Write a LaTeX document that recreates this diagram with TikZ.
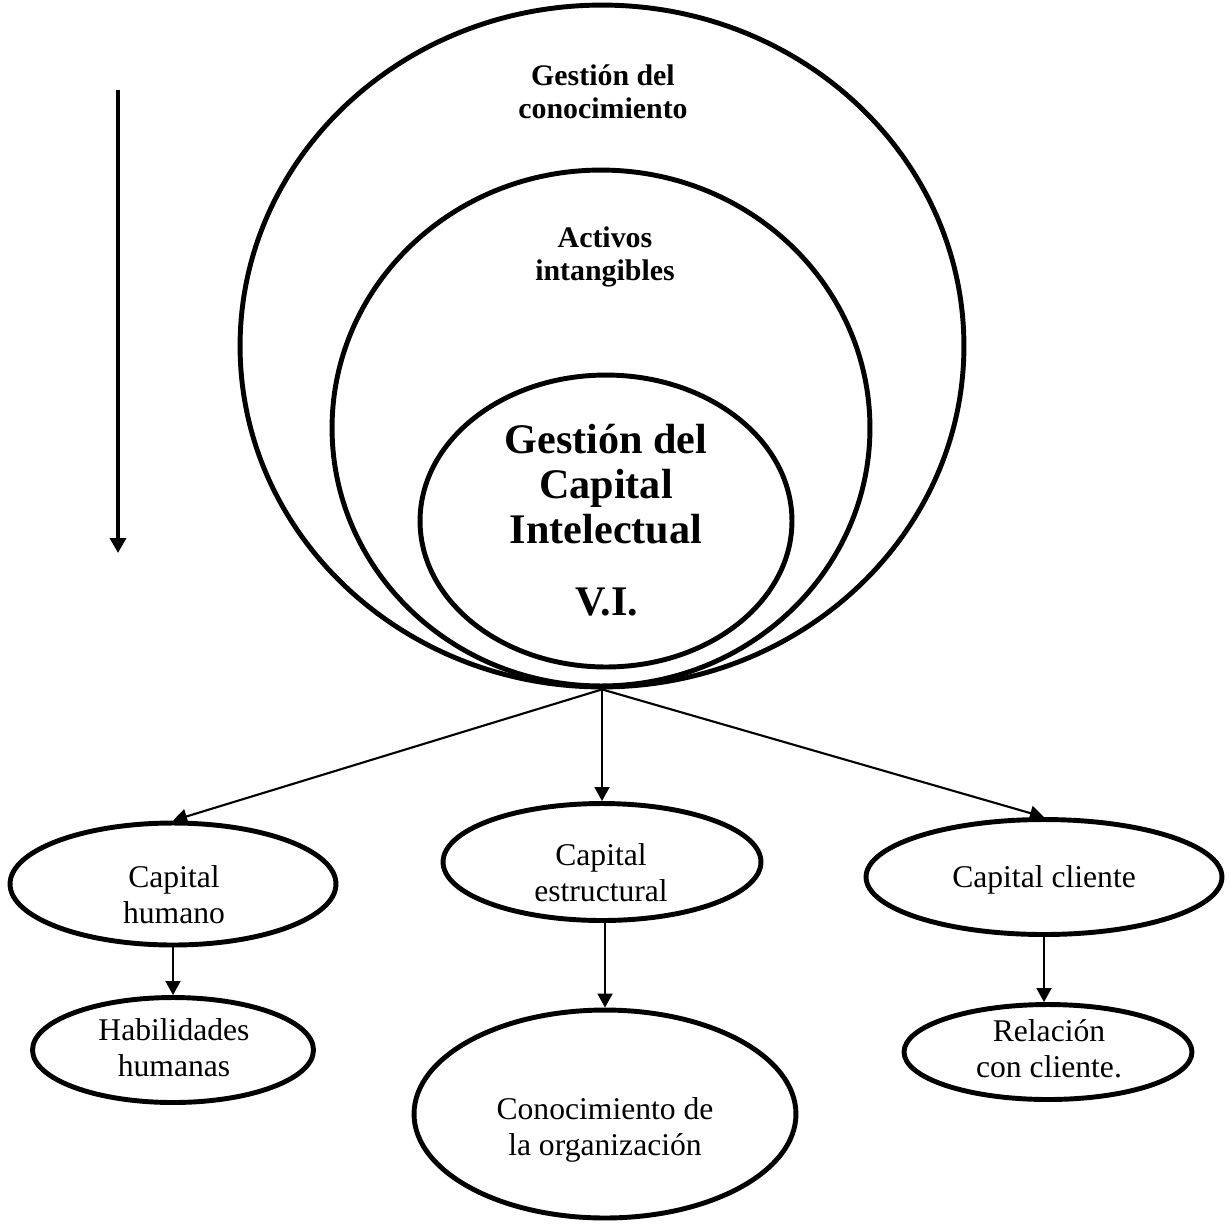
\documentclass[tikz,border=0pt]{standalone}
\usepackage{fontspec}
\setmainfont{Liberation Serif}
\usetikzlibrary{shapes.geometric, arrows.meta}

\begin{document}
\begin{tikzpicture}[x=0.02cm, y=-0.02cm,
    oval/.style={ellipse, draw, line width=2.8pt, inner sep=0pt},
    plain/.style={align=center, inner sep=0pt, font=\fontsize{18}{20.5}\selectfont},
    tag/.style={align=center, inner sep=0pt, font=\fontsize{17}{18.5}\selectfont\bfseries},
    bigtag/.style={align=center, inner sep=0pt, font=\fontsize{24}{25.5}\selectfont\bfseries},
    link/.style={line width=1.2pt, -{Triangle[length=8pt, width=8.5pt]}},
    flow/.style={line width=2.6pt, -{Triangle[length=8.5pt, width=9pt]}}]
  \useasboundingbox (0,0) rectangle (1230,1225);

  % the three nested rings, all touching at the bottom
  \node[oval, minimum width=14.48cm, minimum height=13.64cm] (outer) at (602,346) {};
  \node[oval, minimum width=10.76cm, minimum height=10.32cm] (middle) at (601,428) {};
  \node[oval, minimum width=7.44cm, minimum height=5.84cm] (inner) at (606,521) {};
  \node[tag] (outer-txt) at (603,92) {Gestión del\\conocimiento};
  \node[tag] (middle-txt) at (605,257) {Activos\\intangibles};
  \node[bigtag] (inner-txt) at (606,484) {Gestión del\\Capital\\Intelectual};
  \node[bigtag] (vi-txt) at (607,602) {V.I.};

  % direction arrow on the left
  \coordinate (flow-top) at (118,90);
  \coordinate (flow-end) at (118,553);
  \draw[flow] (flow-top) -- (flow-end);

  % the three kinds of capital
  \node[oval, minimum width=6.52cm, minimum height=2.44cm] (humano) at (173,884) {};
  \node[oval, minimum width=6.36cm, minimum height=2.34cm] (estructural) at (602,862) {};
  \node[oval, minimum width=7.12cm, minimum height=2.30cm] (cliente) at (1044,877) {};
  \node[plain] (humano-txt) at (174,895) {Capital\\humano};
  \node[plain] (estructural-txt) at (601,873) {Capital\\estructural};
  \node[plain] (cliente-txt) at (1044,880) {Capital cliente};

  % what each of them holds
  \node[oval, minimum width=5.62cm, minimum height=2.10cm] (habilidades) at (173,1050) {};
  \node[oval, minimum width=7.64cm, minimum height=4.16cm] (conocimiento) at (605,1114) {};
  \node[oval, minimum width=5.76cm, minimum height=1.90cm] (relacion) at (1048,1052) {};
  \node[plain] (habilidades-txt) at (174,1048) {Habilidades\\humanas};
  \node[plain] (conocimiento-txt) at (605,1130) {Conocimiento de\\la organización};
  \node[plain] (relacion-txt) at (1049,1049) {Relación\\con cliente.};

  \draw[link] (outer.south) -- (humano.north);
  \draw[link] (outer.south) -- (outer.south |- estructural.north);
  \draw[link] (outer.south) -- (cliente.north);
  \draw[link] (humano.south) -- (habilidades.north);
  \draw[link] (conocimiento.north |- estructural.south) -- (conocimiento.north);
  \draw[link] (cliente.south) -- (cliente.south |- relacion.north);
\end{tikzpicture}
\end{document}
